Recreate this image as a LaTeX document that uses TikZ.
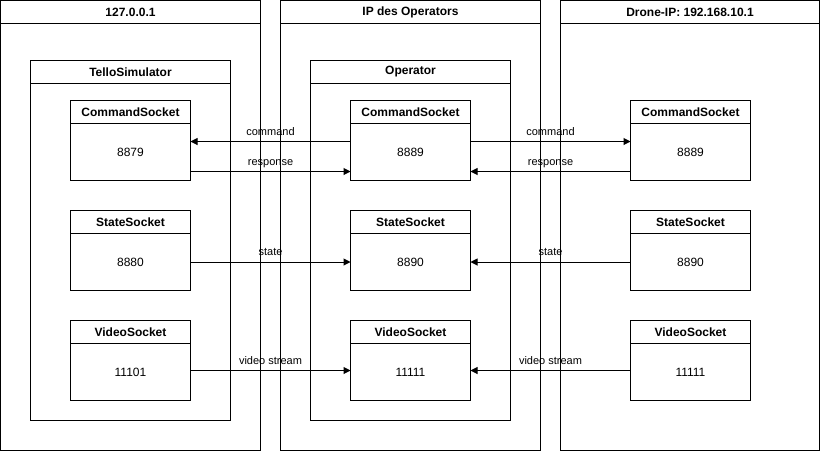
\documentclass[tikz,border=0pt]{standalone}
\usepackage{fontspec}
\setmainfont{Liberation Sans}
\usetikzlibrary{arrows.meta, positioning}

\begin{document}
\begin{tikzpicture}[
  x=1pt, y=-1pt,
  every node/.style={outer sep=0pt, inner sep=0pt},
  head/.style={draw, line width=1pt, minimum height=23,
               font=\fontsize{12}{14}\selectfont\bfseries},
  body/.style={draw, line width=1pt,
               font=\fontsize{12}{14}\selectfont},
  shead/.style={head, minimum width=120},
  sbody/.style={body, minimum width=120, minimum height=57},
  arr/.style={-{Triangle[length=7pt, width=7pt]}, line width=1pt},
  lbl/.style={midway, anchor=base, yshift=6.5pt,
              font=\fontsize{11}{13}\selectfont}
]
  \useasboundingbox (0,0) rectangle (820,451);

  % - Rechner -
  \node[head, minimum width=260, anchor=north west] (hostSimH) at (0.5,0.5) {127.0.0.1};
  \node[body, minimum width=260, minimum height=427, below=0pt of hostSimH] (hostSim) {};
  \node[head, minimum width=260, anchor=north west] (hostOpH) at (280.5,0.5) {IP des Operators};
  \node[body, minimum width=260, minimum height=427, below=0pt of hostOpH] (hostOp) {};
  \node[head, minimum width=259, anchor=north west] (hostDrH) at (560.5,0.5) {Drone-IP: 192.168.10.1};
  \node[body, minimum width=259, minimum height=427, below=0pt of hostDrH] (hostDr) {};

  % - Programme -
  \node[head, minimum width=200, anchor=north west] (simH) at (30.5,60.5) {TelloSimulator};
  \node[body, minimum width=200, minimum height=337, below=0pt of simH] (sim) {};
  \node[head, minimum width=200, anchor=north west] (opH) at (310.5,60.5) {Operator};
  \node[body, minimum width=200, minimum height=337, below=0pt of opH] (op) {};

  % - Sockets Simulator -
  \node[shead, anchor=north west] (cmdSimH) at (70.5,100.5) {CommandSocket};
  \node[sbody, below=0pt of cmdSimH]    (cmdSim)    {8879};
  \node[shead, below=30pt of cmdSim]    (stateSimH) {StateSocket};
  \node[sbody, below=0pt of stateSimH]  (stateSim)  {8880};
  \node[shead, below=30pt of stateSim]  (vidSimH)   {VideoSocket};
  \node[sbody, below=0pt of vidSimH]    (vidSim)    {11101};

  % - Sockets Operator -
  \node[shead, anchor=north west] (cmdOpH) at (350.5,100.5) {CommandSocket};
  \node[sbody, below=0pt of cmdOpH]     (cmdOp)     {8889};
  \node[shead, below=30pt of cmdOp]     (stateOpH)  {StateSocket};
  \node[sbody, below=0pt of stateOpH]   (stateOp)   {8890};
  \node[shead, below=30pt of stateOp]   (vidOpH)    {VideoSocket};
  \node[sbody, below=0pt of vidOpH]     (vidOp)     {11111};

  % - Sockets Drohne -
  \node[shead, anchor=north west] (cmdDrH) at (630.5,100.5) {CommandSocket};
  \node[sbody, below=0pt of cmdDrH]     (cmdDr)     {8889};
  \node[shead, below=30pt of cmdDr]     (stateDrH)  {StateSocket};
  \node[sbody, below=0pt of stateDrH]   (stateDr)   {8890};
  \node[shead, below=30pt of stateDr]   (vidDrH)    {VideoSocket};
  \node[sbody, below=0pt of vidDrH]     (vidDr)     {11111};

  % - Pfeile links -
  \draw[arr] ([yshift=10.5pt]cmdOp.west) -- node[lbl] {command} ([yshift=10.5pt]cmdSim.east);
  \draw[arr] ([yshift=-19.5pt]cmdSim.east) -- node[lbl] {response} ([yshift=-19.5pt]cmdOp.west);
  \draw[arr] (stateSim) -- node[lbl] {state} (stateOp);
  \draw[arr] ([yshift=1.5pt]vidSim.east) -- node[lbl] {video stream} ([yshift=1.5pt]vidOp.west);

  % - Pfeile rechts -
  \draw[arr] ([yshift=10.5pt]cmdOp.east) -- node[lbl] {command} ([yshift=10.5pt]cmdDr.west);
  \draw[arr] ([yshift=-19.5pt]cmdDr.west) -- node[lbl] {response} ([yshift=-19.5pt]cmdOp.east);
  \draw[arr] (stateDr) -- node[lbl] {state} (stateOp);
  \draw[arr] ([yshift=1.5pt]vidDr.west) -- node[lbl] {video stream} ([yshift=1.5pt]vidOp.east);
\end{tikzpicture}
\end{document}
